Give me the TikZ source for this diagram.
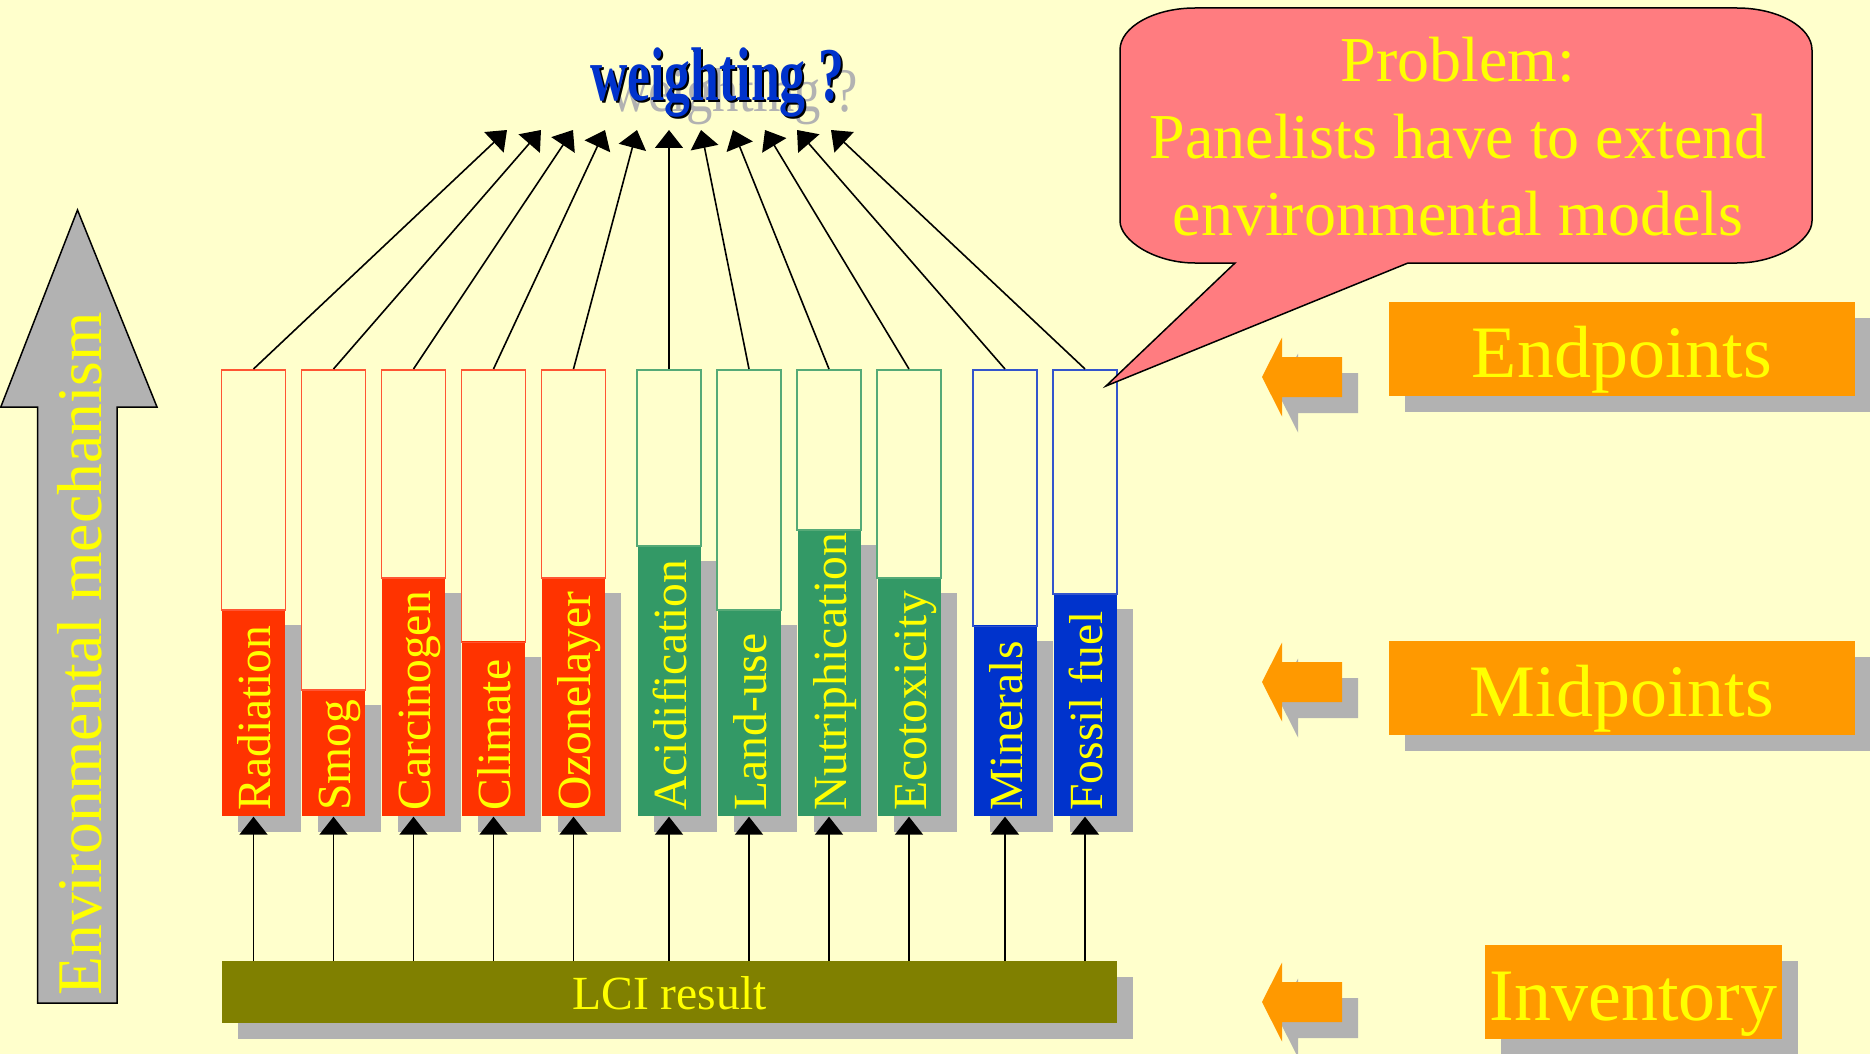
\documentclass[tikz,border=0pt]{standalone}
\usepackage{fontspec}
\setmainfont{Liberation Serif}[Ligatures={TeX,NoCommon}]
\usepackage{tikz}
\usetikzlibrary{arrows.meta,shadows}
\definecolor{paperbrand}{HTML}{FFFFCC}
\definecolor{textbrand}{HTML}{FFFF00}
\definecolor{redbrand}{HTML}{FF3300}
\definecolor{redline}{HTML}{FF5533}
\definecolor{greenbrand}{HTML}{339966}
\definecolor{greenline}{HTML}{55AA77}
\definecolor{bluebrand}{HTML}{0033CC}
\definecolor{blueline}{HTML}{3355CC}
\definecolor{orangebrand}{HTML}{FF9900}
\definecolor{olivebrand}{HTML}{808000}
\definecolor{shadebrand}{HTML}{B2B2B2}
\definecolor{pinkbrand}{HTML}{FF7C80}

\begin{document}
\begin{tikzpicture}[x=0.5pt, y=-0.5pt,
  shadowed/.style={drop shadow={shadow xshift=8pt, shadow yshift=-8pt,
    fill=shadebrand, opacity=1}},
  stock/.style={shadowed, inner sep=0pt, minimum width=31.5pt, anchor=south},
  endcap/.style={draw, line width=0.75pt, inner sep=0pt, minimum width=32pt, anchor=north},
  barlabel/.style={inner sep=0pt, rotate=90, anchor=base west, text=textbrand,
    font=\fontsize{23.8}{28}\selectfont},
  level/.style={shadowed, fill=orangebrand, text=textbrand, inner sep=0pt,
    minimum height=47pt, text height=28pt, text depth=0pt,
    font=\fontsize{37}{44}\selectfont},
  weightword/.style={inner sep=0pt, anchor=base west, xscale=0.68},
  flow/.style={-{Triangle[length=9pt, width=14pt]}, line width=0.8pt}
]
\useasboundingbox (0,0) rectangle (1870,1054);
\fill[paperbrand] (0,0) rectangle (1870,1054);

% environmental mechanism
\draw[line width=0.75pt, fill=shadebrand] (77.5,210) -- (157,407) -- (117,407) -- (117,1003)
  -- (37.5,1003) -- (37.5,407) -- (0.8,407) -- cycle;
\node[inner sep=0pt, rotate=90, anchor=base west, text=textbrand,
  font=\fontsize{31.8}{36}\selectfont] (mechanism) at (101,996) {Environmental mechanism};

% midpoint bars
\node[stock, fill=redbrand, minimum height=103.85pt] (radiation) at (253.5,816.7) {};
\node[stock, fill=redbrand, minimum height=63.85pt] (smog) at (333.5,816.7) {};
\node[stock, fill=redbrand, minimum height=119.85pt] (carcinogen) at (413.5,816.7) {};
\node[stock, fill=redbrand, minimum height=87.5pt] (climate) at (493.5,816.7) {};
\node[stock, fill=redbrand, minimum height=119.85pt] (ozone) at (573.5,816.7) {};
\node[stock, fill=greenbrand, minimum height=135.85pt] (acid) at (669,816.7) {};
\node[stock, fill=greenbrand, minimum height=103.85pt] (landuse) at (749,816.7) {};
\node[stock, fill=greenbrand, minimum height=143.7pt] (nutri) at (829,816.7) {};
\node[stock, fill=greenbrand, minimum height=119.85pt] (ecotox) at (909,816.7) {};
\node[stock, fill=bluebrand, minimum height=95.5pt] (minerals) at (1005,816.7) {};
\node[stock, fill=bluebrand, minimum height=111.7pt] (fossil) at (1085,816.7) {};

% endpoint extensions
\node[endcap, draw=redline, minimum height=120pt] (radiationE) at (253.5,369) {};
\node[endcap, draw=redline, minimum height=160pt] (smogE) at (333.5,369) {};
\node[endcap, draw=redline, minimum height=104pt] (carcinogenE) at (413.5,369) {};
\node[endcap, draw=redline, minimum height=136.35pt] (climateE) at (493.5,369) {};
\node[endcap, draw=redline, minimum height=104pt] (ozoneE) at (573.5,369) {};
\node[endcap, draw=greenline, minimum height=88pt] (acidE) at (669,369) {};
\node[endcap, draw=greenline, minimum height=120pt] (landuseE) at (749,369) {};
\node[endcap, draw=greenline, minimum height=80.15pt] (nutriE) at (829,369) {};
\node[endcap, draw=greenline, minimum height=104pt] (ecotoxE) at (909,369) {};
\node[endcap, draw=blueline, minimum height=128.35pt] (mineralsE) at (1005,369) {};
\node[endcap, draw=blueline, minimum height=112.15pt] (fossilE) at (1085,369) {};

\node[barlabel] (radiationL) at ([xshift=8.5pt, yshift=2.85pt]radiation.south) {Radiation};
\node[barlabel] (smogL) at ([xshift=8.5pt, yshift=2.85pt]smog.south) {Smog};
\node[barlabel] (carcinogenL) at ([xshift=8.5pt, yshift=2.85pt]carcinogen.south) {Carcinogen};
\node[barlabel] (climateL) at ([xshift=8.5pt, yshift=2.85pt]climate.south) {Climate};
\node[barlabel] (ozoneL) at ([xshift=8.5pt, yshift=2.85pt]ozone.south) {Ozonelayer};
\node[barlabel] (acidL) at ([xshift=8.5pt, yshift=2.85pt]acid.south) {Acidification};
\node[barlabel] (landuseL) at ([xshift=8.5pt, yshift=2.85pt]landuse.south) {Land-use};
\node[barlabel] (nutriL) at ([xshift=8.5pt, yshift=2.85pt]nutri.south) {Nutriphication};
\node[barlabel] (ecotoxL) at ([xshift=8.5pt, yshift=2.85pt]ecotox.south) {Ecotoxicity};
\node[barlabel] (mineralsL) at ([xshift=8.5pt, yshift=2.85pt]minerals.south) {Minerals};
\node[barlabel] (fossilL) at ([xshift=8.5pt, yshift=2.85pt]fossil.south) {Fossil fuel};

% inventory
\node[shadowed, fill=olivebrand, text=textbrand, inner sep=0pt, minimum width=447.5pt,
  minimum height=31pt, text height=17pt, text depth=0pt,
  font=\fontsize{23.8}{28}\selectfont] (lci) at (669.5,992) {LCI result};

% weighting
\node[weightword, xscale=1.25, text=shadebrand, font=\fontsize{31}{36}\selectfont] (weightingecho) at (610,112) {weighting ?};
\node[weightword, text=black, font=\fontsize{38}{44}\selectfont\bfseries] (weightingshadow) at (592,103) {weighting ?};
\node[weightword, text=bluebrand, font=\fontsize{38}{44}\selectfont\bfseries] (weighting) at (590,101) {weighting ?};
\coordinate (wRadiation) at (507,130);
\coordinate (wSmog) at (541,130);
\coordinate (wCarcinogen) at (573,130);
\coordinate (wClimate) at (605,130);
\coordinate (wOzone) at (637,130);
\coordinate (wAcid) at (669,130);
\coordinate (wLanduse) at (701,130);
\coordinate (wNutri) at (733,130);
\coordinate (wEcotox) at (765,130);
\coordinate (wMinerals) at (797,130);
\coordinate (wFossil) at (831,130);

\draw[flow] (radiationE.north) -- (wRadiation);
\draw[flow] (smogE.north) -- (wSmog);
\draw[flow] (carcinogenE.north) -- (wCarcinogen);
\draw[flow] (climateE.north) -- (wClimate);
\draw[flow] (ozoneE.north) -- (wOzone);
\draw[flow] (acidE.north) -- (wAcid);
\draw[flow] (landuseE.north) -- (wLanduse);
\draw[flow] (nutriE.north) -- (wNutri);
\draw[flow] (ecotoxE.north) -- (wEcotox);
\draw[flow] (mineralsE.north) -- (wMinerals);
\draw[flow] (fossilE.north) -- (wFossil);

\draw[flow] (lci.north -| radiation.south) -- (radiation.south);
\draw[flow] (lci.north -| smog.south) -- (smog.south);
\draw[flow] (lci.north -| carcinogen.south) -- (carcinogen.south);
\draw[flow] (lci.north -| climate.south) -- (climate.south);
\draw[flow] (lci.north -| ozone.south) -- (ozone.south);
\draw[flow] (lci.north -| acid.south) -- (acid.south);
\draw[flow] (lci.north -| landuse.south) -- (landuse.south);
\draw[flow] (lci.north -| nutri.south) -- (nutri.south);
\draw[flow] (lci.north -| ecotox.south) -- (ecotox.south);
\draw[flow] (lci.north -| minerals.south) -- (minerals.south);
\draw[flow] (lci.north -| fossil.south) -- (fossil.south);

% problem callout
\draw[line width=0.75pt, fill=pinkbrand] (1235,263) -- (1106,386) -- (1408,263) -- (1737,263)
  .. controls (1778,263) and (1812,240) .. (1812,221) -- (1812,50)
  .. controls (1812,27) and (1778,8) .. (1737,8) -- (1195,8)
  .. controls (1154,8) and (1120,27) .. (1120,50) -- (1120,221)
  .. controls (1120,240) and (1154,263) .. (1195,263) -- cycle;
\node[inner sep=0pt, align=center, text=textbrand, font=\fontsize{32}{38.5}\selectfont]
  (problem) at (1458,137) {Problem:\\Panelists have to extend\\environmental models};

% levels
\node[level, minimum width=233pt] (endpoints) at (1622,349) {Endpoints};
\node[level, minimum width=233pt] (midpoints) at (1622,688) {Midpoints};
\node[level, minimum width=148.5pt] (inventory) at (1633.5,992) {Inventory};
\fill[orangebrand, shadowed] (1262,377) -- (1282,337.5) -- (1282,357) -- (1342,357)
  -- (1342,397) -- (1282,397) -- (1282,416.5) -- cycle;
\fill[orangebrand, shadowed] (1262,682) -- (1282,642.5) -- (1282,662) -- (1342,662)
  -- (1342,702) -- (1282,702) -- (1282,721.5) -- cycle;
\fill[orangebrand, shadowed] (1262,1002) -- (1282,962.5) -- (1282,982) -- (1342,982)
  -- (1342,1022) -- (1282,1022) -- (1282,1041.5) -- cycle;
\end{tikzpicture}
\end{document}
